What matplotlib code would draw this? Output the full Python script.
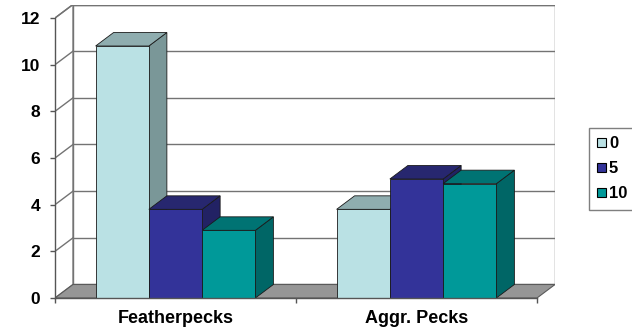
import matplotlib
matplotlib.use("Agg")
import matplotlib.pyplot as plt
from matplotlib.patches import Polygon, Patch

categories = ["Featherpecks", "Aggr. Pecks"]
series_labels = ["0", "5", "10"]
series_values = [
    [10.8, 3.8],   # 0
    [3.8, 5.1],    # 5
    [2.9, 4.9],    # 10
]
y_ticks = [0, 2, 4, 6, 8, 10, 12]

front_colors = ["#BAE1E4", "#333399", "#009999"]
top_colors = ["#8FADAF", "#27276F", "#007373"]
side_colors = ["#7A9798", "#222264", "#006666"]

plt.rcParams["font.family"] = ["Liberation Sans", "DejaVu Sans"]

fig = plt.figure(figsize=(6.32, 3.36), dpi=100)
ax = fig.add_axes([55 / 632, 38 / 336, 500 / 632, 293.5 / 336])

ymax = 12
n_cat = len(categories)
dx = 0.0747   # depth offset in category units
dy = 0.579    # depth offset in value units
bar_w = 0.221
wall_col = "#737373"
edge = "#1A1A1A"

ax.set_xlim(0, n_cat + dx)
ax.set_ylim(0, ymax + dy)

# back wall
ax.add_patch(Polygon([(dx, dy), (n_cat + dx, dy), (n_cat + dx, ymax + dy), (dx, ymax + dy)],
                     closed=True, facecolor="white", edgecolor=wall_col, lw=1.0, zorder=0.5))
# side wall
ax.add_patch(Polygon([(0, 0), (dx, dy), (dx, ymax + dy), (0, ymax)],
                     closed=True, facecolor="white", edgecolor=wall_col, lw=1.0, zorder=0.5))
# gridlines on back and side walls
for v in y_ticks[1:]:
    ax.plot([dx, n_cat + dx], [v + dy, v + dy], color=wall_col, lw=1.0, zorder=0.6)
    ax.plot([0, dx], [v, v + dy], color=wall_col, lw=1.0, zorder=0.6)

# floor
ax.add_patch(Polygon([(0, 0), (n_cat, 0), (n_cat + dx, dy), (dx, dy)],
                     closed=True, facecolor="#969696", edgecolor="#5A5A5A", lw=0.8, zorder=0.7))

# 3D columns, left to right so nearer faces overlap correctly
bars = []
for c in range(n_cat):
    for s in range(len(series_labels)):
        x0 = c + 0.5 + (s - 1.5) * bar_w
        bars.append((x0, series_values[s][c], s))
bars.sort(key=lambda b: b[0])
for x0, v, s in bars:
    x1 = x0 + bar_w
    ax.add_patch(Polygon([(x1, 0), (x1 + dx, dy), (x1 + dx, v + dy), (x1, v)],
                         closed=True, facecolor=side_colors[s], edgecolor=edge, lw=0.6, zorder=1))
    ax.add_patch(Polygon([(x0, v), (x1, v), (x1 + dx, v + dy), (x0 + dx, v + dy)],
                         closed=True, facecolor=top_colors[s], edgecolor=edge, lw=0.6, zorder=1))
    ax.add_patch(Polygon([(x0, 0), (x1, 0), (x1, v), (x0, v)],
                         closed=True, facecolor=front_colors[s], edgecolor=edge, lw=0.6, zorder=1))

# axes
for side in ["top", "right"]:
    ax.spines[side].set_visible(False)
ax.spines["left"].set_bounds(0, ymax)
ax.spines["bottom"].set_bounds(0, n_cat)
for side in ["left", "bottom"]:
    ax.spines[side].set_color("#555555")
    ax.spines[side].set_linewidth(1.0)
    ax.spines[side].set_zorder(2)

ax.set_yticks(y_ticks)
ax.set_yticklabels([str(t) for t in y_ticks], fontweight="bold", fontsize=12.5)
ax.tick_params(axis="y", length=3.6, width=1.0, color="#555555", pad=7)

ax.set_xticks(range(n_cat + 1))
ax.set_xticklabels([""] * (n_cat + 1))
ax.set_xticks([c + 0.5 for c in range(n_cat)], minor=True)
ax.set_xticklabels(categories, minor=True, fontweight="bold", fontsize=13)
ax.tick_params(axis="x", which="major", length=3.6, width=1.0, color="#555555")
ax.tick_params(axis="x", which="minor", length=0, pad=8.5)

handles = [Patch(facecolor=front_colors[s], edgecolor="black", lw=0.8) for s in range(len(series_labels))]
fig.legend(handles, series_labels, loc="upper left", bbox_to_anchor=(589 / 632, 1 - 128 / 336),
           frameon=True, fancybox=False, edgecolor="#7F7F7F", framealpha=1,
           prop={"weight": "bold", "size": 12}, handlelength=0.5, handleheight=0.5,
           handletextpad=0.2, labelspacing=0.6, borderpad=0.5, borderaxespad=0)

fig.savefig("out.png", dpi=100)
